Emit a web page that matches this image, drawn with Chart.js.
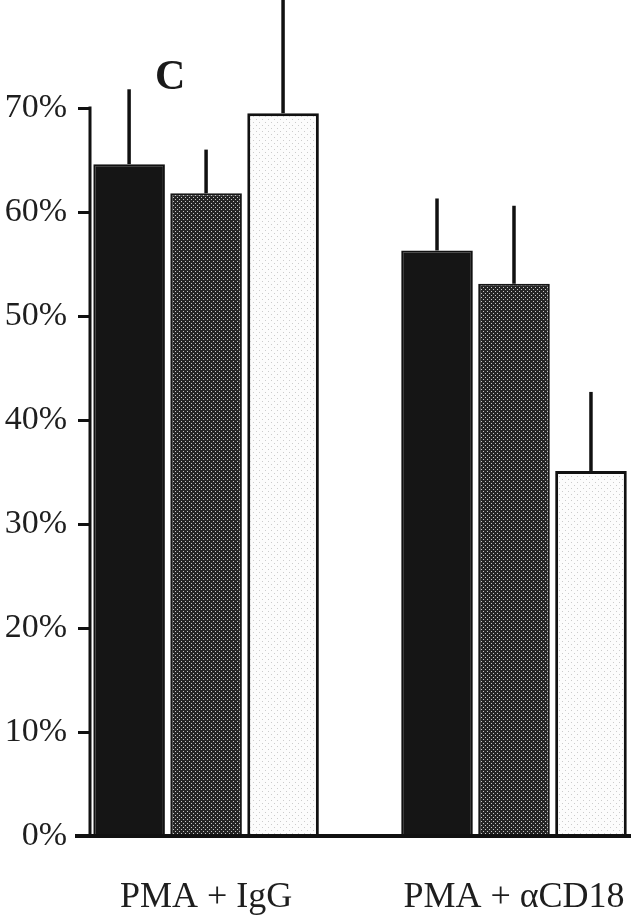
<!DOCTYPE html>
<html lang="en">
<head>
    <meta charset="UTF-8">
    <title>Panel C</title>
    <script src="https://cdn.jsdelivr.net/npm/chart.js"></script>
    <style>
        body { margin: 0; background: #fff; }
        #wrap { width: 631px; height: 917px; }
    </style>
</head>
<body>
<div id="wrap"><canvas id="chart"></canvas></div>

<script>
  // Data
  const categories = ['PMA + IgG', 'PMA + αCD18'];
  const blackValues = [64.6, 56.3];
  const blackErrors = [7.2, 5.0];
  const dottedValues = [61.8, 53.1];
  const dottedErrors = [4.2, 7.5];
  const lightValues = [69.5, 35.1];
  const lightErrors = [11.5, 7.6];
  const yTickValues = [0, 10, 20, 30, 40, 50, 60, 70];

  const serif = "'Liberation Serif', 'DejaVu Serif', serif";

  // fill patterns for the bars
  function makePattern(size, bg, dot, dots) {
    const c = document.createElement('canvas');
    c.width = size; c.height = size;
    const g = c.getContext('2d');
    g.fillStyle = bg;
    g.fillRect(0, 0, size, size);
    g.fillStyle = dot;
    dots.forEach(d => g.fillRect(d[0], d[1], 1, 1));
    return g.createPattern(c, 'repeat');
  }
  const ctx = document.getElementById('chart').getContext('2d');
  const dottedFill = makePattern(4, '#252525', '#c8c8c8', [[1, 1], [3, 3]]);
  const lightFill = makePattern(6, '#fcfcfc', '#cccccc', [[1, 2], [4, 5]]);

  const toPoints = arr => arr.map((v, i) => ({ x: i, y: v }));
  const errorSets = [blackErrors, dottedErrors, lightErrors];

  const overlay = {
    id: 'overlay',
    afterDatasetsDraw(chart) {
      const c = chart.ctx;
      const ys = chart.scales.y;
      const area = chart.chartArea;
      c.save();
      c.strokeStyle = '#111';
      c.lineCap = 'butt';

      // error bars (upper only)
      c.lineWidth = 3.5;
      chart.data.datasets.forEach((ds, di) => {
        const meta = chart.getDatasetMeta(di);
        meta.data.forEach((bar, i) => {
          const top = ys.getPixelForValue(ds.data[i].y + errorSets[di][i]);
          c.beginPath();
          c.moveTo(bar.x, bar.y);
          c.lineTo(bar.x, top);
          c.stroke();
        });
      });

      // y axis line from 0% to 70%
      c.lineWidth = 3;
      c.beginPath();
      c.moveTo(area.left, ys.getPixelForValue(0));
      c.lineTo(area.left, ys.getPixelForValue(yTickValues[yTickValues.length - 1]) - 1.5);
      c.stroke();

      // baseline
      c.lineWidth = 4;
      c.beginPath();
      c.moveTo(area.left - 15, ys.getPixelForValue(0));
      c.lineTo(area.right, ys.getPixelForValue(0));
      c.stroke();

      // panel letter
      c.fillStyle = '#1a1a1a';
      c.font = "bold 42px " + serif;
      c.textBaseline = 'alphabetic';
      c.fillText('C', 155, 89);
      c.restore();
    }
  };

  new Chart(ctx, {
    type: 'bar',
    data: {
      datasets: [
        { label: 'black', data: toPoints(blackValues), backgroundColor: '#151515', borderColor: '#111', borderWidth: 2 },
        { label: 'dotted', data: toPoints(dottedValues), backgroundColor: dottedFill, borderColor: '#161616', borderWidth: 2 },
        { label: 'light', data: toPoints(lightValues), backgroundColor: lightFill, borderColor: '#111', borderWidth: 3 }
      ]
    },
    options: {
      responsive: true,
      maintainAspectRatio: false,
      animation: false,
      categoryPercentage: 0.75,
      barPercentage: 0.93,
      layout: { padding: { top: 4, left: 0, right: 0, bottom: 0 } },
      plugins: { legend: { display: false }, tooltip: { enabled: false } },
      scales: {
        x: {
          type: 'linear',
          offset: false,
          min: -0.377,
          max: 1.38,
          grid: { display: false, offset: false },
          border: { display: false },
          afterBuildTicks: s => { s.ticks = categories.map((_, i) => ({ value: i })); },
          afterFit: s => { s.height = 81; s.paddingLeft = 0; s.paddingRight = 0; },
          ticks: {
            autoSkip: false,
            maxRotation: 0,
            padding: 32,
            color: '#1e1e1e',
            font: { family: serif, size: 36 },
            callback: v => categories[v] ?? ''
          }
        },
        y: {
          min: 0,
          max: 80,
          afterBuildTicks: s => { s.ticks = yTickValues.map(v => ({ value: v })); },
          afterFit: s => { s.width = 90; s.paddingTop = 0; s.paddingBottom = 0; },
          grid: { drawOnChartArea: false, drawTicks: true, tickLength: 12, lineWidth: 3, color: '#111' },
          border: { display: false },
          ticks: {
            padding: 11,
            color: '#1e1e1e',
            font: { family: serif, size: 34 },
            callback: v => v + '%'
          }
        }
      }
    },
    plugins: [overlay]
  });
</script>
</body>
</html>
